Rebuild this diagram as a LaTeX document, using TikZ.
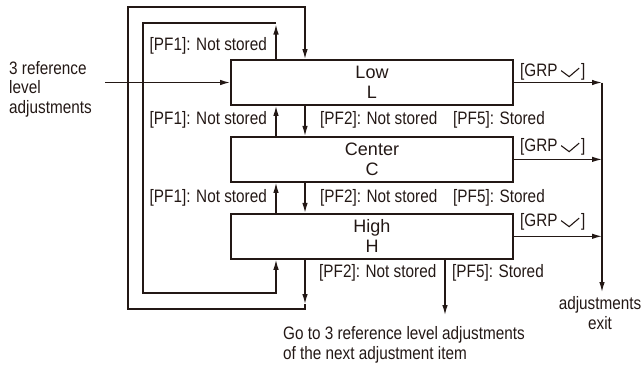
\documentclass[tikz,border=0pt]{standalone}
\usepackage{fontspec}
\setmainfont{Liberation Sans}
\newfontfamily\condfont[FakeStretch=0.85]{Liberation Sans}
\usepackage{tikz}
\usetikzlibrary{positioning}
\usetikzlibrary{calc}
\usetikzlibrary{arrows.meta}
\definecolor{ink}{RGB}{35,24,21}
\newcommand{\grpmark}{\tikz[baseline=0pt,x=1pt,y=1pt]\draw[ink,line width=1.1pt] (0,6) -- (8,0) -- (18,8.5);}

\begin{document}
\begin{tikzpicture}[
  x=1pt, y=-1pt,
  >={Latex[length=10pt,width=5.5pt]},
  every node/.style={text=ink},
  edge/.style={draw=ink, line width=1.2pt},
  msg/.style={edge, ->},
  stage/.style={draw=ink, line width=1.9pt, minimum width=282pt, minimum height=45pt,
    align=center, inner sep=0pt, font=\fontsize{18}{20}\selectfont},
  lbl/.style={inner sep=0pt, font=\condfont\fontsize{18}{19.5}\selectfont}
]
\useasboundingbox (0,0) rectangle (643,367);

% ---------- Adjustment stages ----------
\node[stage] (low) at (372,82.5) {Low\\L};
\node[stage] (center) [below=30pt of low] {Center\\C};
\node[stage] (high) [below=30pt of center] {High\\H};

% columns of the vertical connectors
\coordinate (upcol) at (276,0);
\coordinate (dncol) at (305,0);
\coordinate (stcol) at (445,0);
\coordinate (outcol) at (602,0);

% ---------- Loops back round ----------
\coordinate (oleft) at (128,7);
\coordinate (obot) at (305,309);
\coordinate (itop) at (276,23);
\coordinate (ibot) at (143,293);

\draw[msg] (high.south -| dncol) -- ($(obot)+(0,-5)$);
\draw[msg] ($(obot)+(0,-5)$) -- (obot) -| (oleft) -| (low.north -| dncol);
\draw[msg] (low.north -| upcol) -- ($(itop)+(0,1.5)$);
\draw[msg] (itop) -| (ibot) -| (high.south -| upcol);

% ---------- Steps between stages ----------
\draw[msg] (center.north -| upcol) -- (low.south -| upcol);
\draw[msg] (low.south -| dncol) -- (center.north -| dncol);
\draw[msg] (high.north -| upcol) -- (center.south -| upcol);
\draw[msg] (center.south -| dncol) -- (high.north -| dncol);

% ---------- Entry ----------
\node[lbl, align=left, anchor=west] (refin) at (9,89) {3 reference\\level\\adjustments};
\coordinate (instart) at (105,82.5);
\draw[msg] (instart) -- (low.west);

% ---------- Exit ----------
\coordinate (outend) at (602,292);
\draw[msg] (low.east) -- (low.east -| outcol);
\draw[msg] (center.east) -- (center.east -| outcol);
\draw[msg] (high.east) -- (high.east -| outcol);
\draw[msg] (low.east -| outcol) -- (outend);
\node[lbl, align=center] (exitlbl) at (600,313) {adjustments\\exit};

% ---------- Next item ----------
\coordinate (nextend) at (445,315);
\draw[msg] (high.south -| stcol) -- (nextend);
\node[lbl, align=left, anchor=west] (nextlbl) at (283,345)
  {Go to 3 reference level adjustments\\of the next adjustment item};

% ---------- Labels ----------
\node[lbl, anchor=east] (pf1a) at (267,46) {[PF1]: Not stored};
\node[lbl, anchor=east] (pf1b) at (267,120) {[PF1]: Not stored};
\node[lbl, anchor=east] (pf1c) at (267,198) {[PF1]: Not stored};
\node[lbl, anchor=west] (pf2a) at (320,120) {[PF2]: Not stored};
\node[lbl, anchor=west] (pf2b) at (320,198) {[PF2]: Not stored};
\node[lbl, anchor=west] (pf2c) at (319,273) {[PF2]: Not stored};
\node[lbl, anchor=west] (pf5a) at (453,120) {[PF5]: Stored};
\node[lbl, anchor=west] (pf5b) at (453,198) {[PF5]: Stored};
\node[lbl, anchor=west] (pf5c) at (452,273) {[PF5]: Stored};
\node[lbl, anchor=west] (grpa) at (520,72) {[GRP\hspace{3pt}\grpmark\hspace{1.5pt}]};
\node[lbl, anchor=west] (grpb) at (520,147) {[GRP\hspace{3pt}\grpmark\hspace{1.5pt}]};
\node[lbl, anchor=west] (grpc) at (520,222) {[GRP\hspace{3pt}\grpmark\hspace{1.5pt}]};

\end{tikzpicture}
\end{document}
